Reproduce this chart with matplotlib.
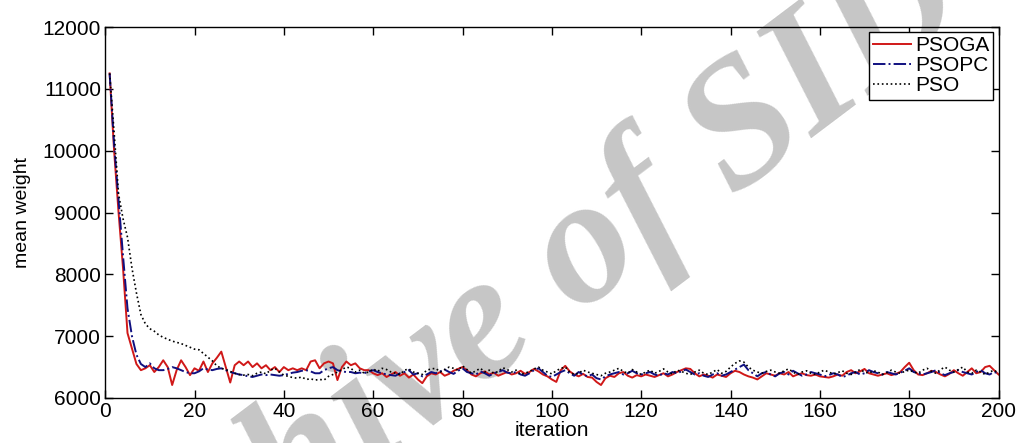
import numpy as np
import matplotlib
matplotlib.use("Agg")
import matplotlib.pyplot as plt

iterations = list(range(1, 201))

psoga = [
    11250, 10000, 9000, 8100, 7050, 6800, 6550, 6450, 6480, 6530,
    6420, 6500, 6610, 6500, 6210, 6450, 6610, 6500, 6370, 6480,
    6440, 6590, 6420, 6560, 6650, 6750, 6500, 6250, 6530, 6590,
    6530, 6590, 6500, 6560, 6480, 6530, 6450, 6500, 6420, 6500,
    6450, 6480, 6450, 6480, 6450, 6590, 6610, 6480, 6560, 6590,
    6560, 6290, 6500, 6590, 6530, 6560, 6480, 6450, 6450, 6400,
    6370, 6400, 6340, 6380, 6420, 6360, 6400, 6330, 6380, 6300,
    6240, 6350, 6400, 6380, 6420, 6360, 6390, 6440, 6470, 6500,
    6450, 6380, 6350, 6400, 6430, 6380, 6410, 6360, 6390, 6420,
    6380, 6400, 6440, 6390, 6420, 6470, 6430, 6380, 6350, 6300,
    6260, 6450, 6520, 6430, 6380, 6350, 6390, 6340, 6330, 6260,
    6210, 6320, 6360, 6340, 6400, 6420, 6360, 6330, 6370, 6350,
    6380, 6360, 6340, 6370, 6400, 6350, 6380, 6420, 6450, 6480,
    6470, 6400, 6350, 6380, 6360, 6330, 6380, 6360, 6340, 6400,
    6440, 6420, 6380, 6350, 6330, 6300, 6350, 6400, 6380, 6360,
    6400, 6380, 6420, 6350, 6380, 6400, 6370, 6360, 6380, 6350,
    6340, 6330, 6350, 6380, 6360, 6420, 6450, 6400, 6430, 6470,
    6400, 6380, 6360, 6380, 6400, 6370, 6390, 6420, 6500, 6570,
    6450, 6380, 6370, 6400, 6440, 6420, 6380, 6350, 6390, 6450,
    6400, 6360, 6420, 6480, 6400, 6420, 6500, 6520, 6450, 6380,
]

psopc = [
    11250, 10100, 9200, 8300, 7450, 7000, 6700, 6550, 6500, 6560,
    6480, 6450, 6450, 6470, 6500, 6480, 6450, 6420, 6400, 6400,
    6430, 6480, 6460, 6450, 6470, 6480, 6450, 6420, 6400, 6380,
    6370, 6350, 6340, 6360, 6380, 6370, 6380, 6370, 6360, 6370,
    6390, 6410, 6420, 6440, 6450, 6430, 6400, 6400, 6450, 6480,
    6500, 6450, 6430, 6420, 6420, 6400, 6410, 6400, 6430, 6450,
    6420, 6400, 6380, 6370, 6360, 6400, 6420, 6450, 6380, 6400,
    6350, 6380, 6420, 6400, 6430, 6460, 6420, 6390, 6440, 6480,
    6420, 6400, 6380, 6430, 6400, 6360, 6400, 6420, 6450, 6410,
    6400, 6420, 6380, 6360, 6400, 6450, 6480, 6420, 6360, 6340,
    6380, 6420, 6450, 6400, 6360, 6420, 6380, 6350, 6380, 6320,
    6300, 6350, 6380, 6400, 6420, 6380, 6400, 6440, 6400, 6380,
    6400, 6420, 6380, 6360, 6400, 6380, 6420, 6400, 6430, 6460,
    6420, 6380, 6400, 6360, 6340, 6380, 6400, 6360, 6380, 6420,
    6460, 6500, 6540, 6450, 6400, 6350, 6400, 6420, 6380, 6350,
    6400, 6420, 6380, 6440, 6400, 6360, 6380, 6420, 6400, 6380,
    6350, 6370, 6400, 6380, 6340, 6360, 6400, 6420, 6380, 6400,
    6450, 6420, 6400, 6380, 6420, 6400, 6380, 6410, 6440, 6480,
    6420, 6400, 6380, 6400, 6420, 6450, 6400, 6370, 6400, 6420,
    6450, 6420, 6400, 6380, 6420, 6450, 6400, 6380, 6420, 6400,
]

pso = [
    11250, 10300, 9300, 8900, 8600, 8100, 7700, 7350, 7200, 7120,
    7080, 7020, 6980, 6950, 6920, 6900, 6880, 6850, 6820, 6790,
    6780, 6720, 6660, 6600, 6520, 6480, 6460, 6430, 6400, 6380,
    6370, 6380, 6360, 6400, 6420, 6390, 6450, 6480, 6420, 6370,
    6350, 6330, 6320, 6340, 6300, 6310, 6290, 6300, 6290, 6350,
    6380, 6420, 6460, 6500, 6480, 6420, 6450, 6400, 6420, 6470,
    6430, 6480, 6460, 6420, 6400, 6380, 6450, 6470, 6420, 6400,
    6380, 6450, 6470, 6480, 6420, 6460, 6500, 6480, 6450, 6520,
    6460, 6400, 6440, 6480, 6420, 6450, 6400, 6430, 6490, 6460,
    6420, 6450, 6380, 6400, 6430, 6470, 6500, 6450, 6420, 6390,
    6440, 6480, 6500, 6420, 6380, 6400, 6450, 6420, 6400, 6380,
    6360, 6400, 6420, 6450, 6480, 6430, 6400, 6460, 6420, 6380,
    6420, 6450, 6400, 6430, 6470, 6420, 6390, 6450, 6430, 6400,
    6380, 6420, 6450, 6400, 6380, 6420, 6460, 6400, 6430, 6500,
    6560, 6600, 6580, 6500, 6450, 6420, 6400, 6430, 6450, 6420,
    6400, 6440, 6470, 6420, 6380, 6420, 6440, 6400, 6380, 6420,
    6450, 6420, 6390, 6410, 6440, 6400, 6380, 6420, 6460, 6420,
    6400, 6440, 6420, 6380, 6410, 6450, 6420, 6400, 6430, 6450,
    6420, 6400, 6450, 6480, 6430, 6400, 6460, 6500, 6450, 6420,
    6460, 6500, 6420, 6400, 6450, 6420, 6380, 6420, 6450, 6400,
]

series_names = ["PSOGA", "PSOPC", "PSO"]
x_ticks = list(range(0, 201, 20))
y_ticks = list(range(6000, 12001, 1000))

plt.rcParams['font.family'] = ['Liberation Sans', 'DejaVu Sans']

fig = plt.figure(figsize=(10.21, 4.43), dpi=100)
ax = fig.add_axes([0.103, 0.1016, 0.875, 0.8374])
ax.set_facecolor('none')

# watermark (drawn beneath the axes content)
fig.text(0.49, 0.27, "Archive of SID", fontsize=130, family='Liberation Serif',
         style='italic', weight='bold', color='#c6c6c6', rotation=37,
         ha='center', va='center', zorder=-1)

ax.plot(iterations, psoga, color='#d01818', linestyle='-', linewidth=1.4,
        label=series_names[0])
ax.plot(iterations, psopc, color='#101080', linestyle='-.', linewidth=1.4,
        label=series_names[1])
ax.plot(iterations, pso, color='black', linestyle=':', linewidth=1.2,
        label=series_names[2])

ax.set_xlim(0, 200)
ax.set_ylim(6000, 12000)
ax.set_xticks(x_ticks)
ax.set_yticks(y_ticks)
ax.tick_params(direction='in', length=6, width=1, top=True, right=True,
               labelsize=15, pad=3)
for sp in ax.spines.values():
    sp.set_linewidth(1.0)
ax.set_xlabel("iteration", fontsize=15, labelpad=0)
ax.set_ylabel("mean weight", fontsize=14, labelpad=8)

leg = ax.legend(loc='upper right', fontsize=15, frameon=True, fancybox=False,
                handlelength=1.8, handletextpad=0.2, borderpad=0.2,
                labelspacing=0.05, borderaxespad=0.25)
leg.get_frame().set_edgecolor('black')
leg.get_frame().set_linewidth(1.0)
leg.get_frame().set_alpha(1.0)

fig.savefig("out.png", dpi=100)
